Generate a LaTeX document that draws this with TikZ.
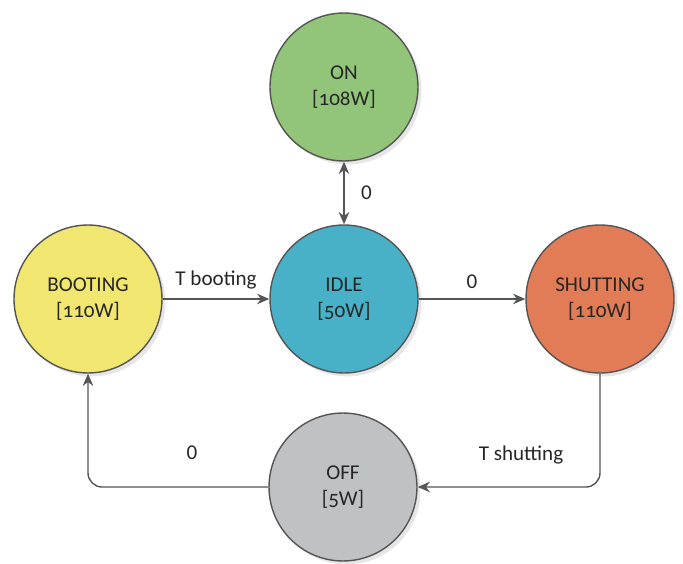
\documentclass[tikz,border=0pt]{standalone}
\usepackage{fontspec}
\setmainfont{Carlito}[Numbers=OldStyle]
\usepackage{tikz}
\usetikzlibrary{arrows.meta,positioning,shadows}
\definecolor{ongreen}{RGB}{146,196,122}
\definecolor{bootyellow}{RGB}{241,230,112}
\definecolor{idleteal}{RGB}{72,177,200}
\definecolor{shutorange}{RGB}{226,124,86}
\definecolor{offgray}{RGB}{190,194,194}
\definecolor{linegray}{RGB}{85,85,85}

\begin{document}
\begin{tikzpicture}[x=0.02cm, y=-0.02cm]
  \tikzstyle{state} = [circle, draw=linegray, line width=0.8pt, minimum size=2.96cm, align=center, text=black!85, font=\fontsize{12}{14.5}\selectfont, drop shadow={opacity=0.2, shadow xshift=2pt, shadow yshift=-2pt}]
  \tikzstyle{flow} = [draw=linegray, line width=0.8pt, -{Stealth[length=7pt, width=6pt]}, rounded corners=8pt]
  \tikzstyle{lbl} = [text=black!85, font=\fontsize{12}{14.5}\selectfont\addfontfeatures{Numbers=Lining}]

  \useasboundingbox (0,0) rectangle (683,564);

  \node[state, fill=ongreen] (on) at (344, 87) {ON\\{[}108W{]}};
  \node[state, fill=bootyellow] (boot) at (88, 299) {BOOTING\\{[}110W{]}};
  \node[state, fill=idleteal] (idle) at (344, 299) {IDLE\\{[}50W{]}};
  \node[state, fill=shutorange] (shut) at (600, 299) {SHUTTING\\{[}110W{]}};
  \node[state, fill=offgray] (off) at (343, 487) {OFF\\{[}5W{]}};

  \draw[flow, {Stealth[length=7pt, width=6pt]}-{Stealth[length=7pt, width=6pt]}] (on) -- node[lbl, right=6pt] {0} (idle);
  \draw[flow] (boot) -- node[lbl, above=2pt] {T booting} (idle);
  \draw[flow] (idle) -- node[lbl, above=2pt] {0} (shut);
  \draw[flow] (shut.south) |- (off.east);
  \draw[flow] (off.west) -| (boot.south);

  \node[lbl] (tshut) at (521, 455) {T shutting};
  \node[lbl] (zero) at (192, 453) {0};
\end{tikzpicture}
\end{document}
